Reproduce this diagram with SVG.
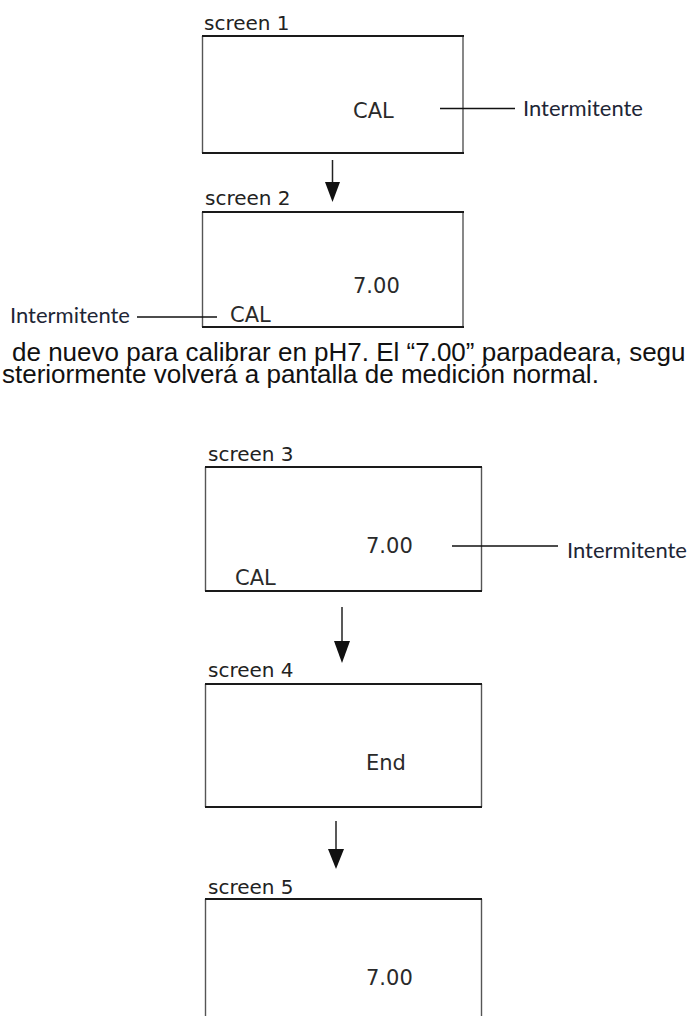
<svg xmlns="http://www.w3.org/2000/svg" width="692" height="1016" viewBox="0 0 692 1016">
<style>
.hl{stroke:#1a1a1a;stroke-width:2;fill:none}
.vl{stroke:#555;stroke-width:1.4;fill:none}
.lab{font-family:"DejaVu Sans",Verdana,sans-serif;font-size:20px;fill:#222}
.val{font-family:"DejaVu Sans",Verdana,sans-serif;font-size:21px;fill:#2a2a2a}
.int{font-family:Lato,"Noto Sans",sans-serif;font-size:22px;fill:#1e2636}
.lead{stroke:#111;stroke-width:1.3;fill:none}
.para{font-family:"Liberation Sans",Arial,sans-serif;font-size:26px;fill:#111}
.shaft{stroke:#222;stroke-width:1.5;fill:none}
.head{fill:#111}
</style>
<rect width="692" height="1016" fill="#fff"/>

<g id="screen1">
<text class="lab" x="204" y="30">screen 1</text>
<line class="vl" x1="202.5" y1="36" x2="202.5" y2="153"/>
<line class="vl" x1="463" y1="36" x2="463" y2="153"/>
<line class="hl" x1="202" y1="36" x2="464" y2="36"/>
<line class="hl" x1="202" y1="153" x2="464" y2="153"/>
<text class="val" x="353" y="118">CAL</text>
<line class="lead" x1="440" y1="108.5" x2="515" y2="108.5"/>
<text class="int" x="523" y="116">Intermitente</text>
</g>

<g id="screen2">
<text class="lab" x="205" y="205">screen 2</text>
<line class="vl" x1="202.5" y1="212" x2="202.5" y2="327"/>
<line class="vl" x1="463" y1="212" x2="463" y2="327"/>
<line class="hl" x1="202" y1="212" x2="464" y2="212"/>
<line class="hl" x1="202" y1="327" x2="464" y2="327"/>
<text class="val" x="353" y="293">7.00</text>
<text class="val" x="230" y="322">CAL</text>
<line class="lead" x1="137" y1="317" x2="217" y2="317"/>
<text class="int" x="10" y="323">Intermitente</text>
</g>

<g id="paragraph">
<text class="para" x="12" y="361">de nuevo para calibrar en pH7. El “7.00” parpadeara, segu</text>
<text class="para" x="2" y="383">steriormente volverá a pantalla de medición normal.</text>
</g>

<g id="screen3">
<text class="lab" x="208" y="461">screen 3</text>
<line class="vl" x1="205.5" y1="467" x2="205.5" y2="591"/>
<line class="vl" x1="481.5" y1="467" x2="481.5" y2="591"/>
<line class="hl" x1="205" y1="467" x2="482" y2="467"/>
<line class="hl" x1="205" y1="591" x2="482" y2="591"/>
<text class="val" x="366" y="553">7.00</text>
<text class="val" x="235" y="585">CAL</text>
<line class="lead" x1="452" y1="546" x2="558" y2="546"/>
<text class="int" x="567" y="558">Intermitente</text>
</g>

<g id="screen4">
<text class="lab" x="208" y="677">screen 4</text>
<line class="vl" x1="205.5" y1="684" x2="205.5" y2="807"/>
<line class="vl" x1="481.5" y1="684" x2="481.5" y2="807"/>
<line class="hl" x1="205" y1="684" x2="482" y2="684"/>
<line class="hl" x1="205" y1="807" x2="482" y2="807"/>
<text class="val" x="366" y="770">End</text>
</g>

<g id="screen5">
<text class="lab" x="208" y="894">screen 5</text>
<line class="vl" x1="205.5" y1="899" x2="205.5" y2="1016"/>
<line class="vl" x1="481.5" y1="899" x2="481.5" y2="1016"/>
<line class="hl" x1="205" y1="899" x2="482" y2="899"/>
<text class="val" x="366" y="985">7.00</text>
</g>

<g id="connectors">
<line class="shaft" x1="332.5" y1="160" x2="332.5" y2="184"/>
<polygon class="head" points="325,182 340,182 332.5,202"/>
<line class="shaft" x1="342" y1="607" x2="342" y2="643"/>
<polygon class="head" points="334,641 350,641 342,663"/>
<line class="shaft" x1="336" y1="821" x2="336" y2="851"/>
<polygon class="head" points="328,849 344,849 336,869"/>
</g>
</svg>
